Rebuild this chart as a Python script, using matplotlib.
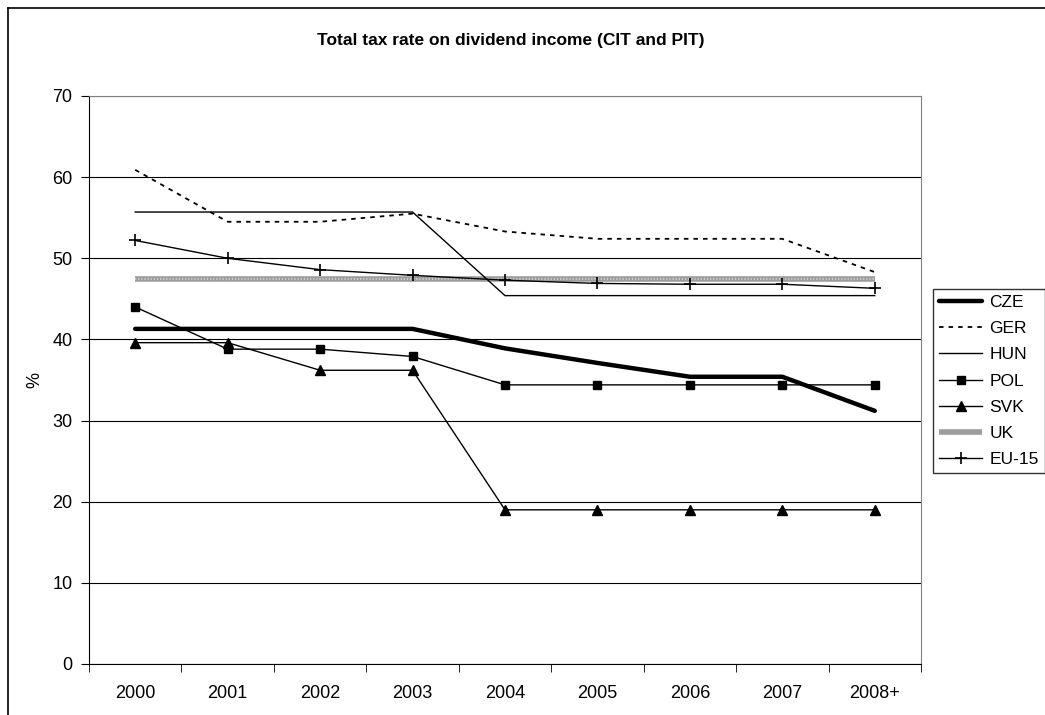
import matplotlib.pyplot as plt
from matplotlib.lines import Line2D
import numpy as np

plt.rcParams['font.family'] = ['Liberation Sans', 'DejaVu Sans']

years = ["2000", "2001", "2002", "2003", "2004", "2005", "2006", "2007", "2008+"]

cze = [41.3, 41.3, 41.3, 41.3, 38.9, 37.1, 35.4, 35.4, 31.2]
ger = [60.9, 54.5, 54.5, 55.5, 53.3, 52.4, 52.4, 52.4, 48.3]
hun = [55.7, 55.7, 55.7, 55.7, 45.4, 45.4, 45.4, 45.4, 45.4]
pol = [44.0, 38.8, 38.8, 37.9, 34.4, 34.4, 34.4, 34.4, 34.4]
svk = [39.6, 39.6, 36.2, 36.2, 19.0, 19.0, 19.0, 19.0, 19.0]
uk = [47.5, 47.5, 47.5, 47.5, 47.5, 47.5, 47.5, 47.5, 47.5]
eu15 = [52.2, 50.0, 48.6, 47.9, 47.3, 46.9, 46.8, 46.8, 46.3]

fig = plt.figure(figsize=(10.45, 7.15), dpi=100)
ax = fig.add_axes([89 / 1045, 51 / 715, 832 / 1045, 568 / 715])

x = np.arange(len(years))

ax.plot(x, uk, color='#9c9c9c', lw=4, solid_capstyle='butt', label='UK', zorder=2)
ax.plot(x, uk, color='#cdcdcd', lw=1.5, linestyle=(0, (0.6, 0.9)), zorder=2)
ax.plot(x, ger, color='black', lw=1.3, linestyle=(0, (2.5, 2.8)), label='GER', zorder=3)
ax.plot(x, hun, color='black', lw=1.0, label='HUN', zorder=3)
ax.plot(x, pol, color='black', lw=1.0, marker='s', markersize=6, label='POL', zorder=4)
ax.plot(x, svk, color='black', lw=1.0, marker='^', markersize=7, label='SVK', zorder=4)
ax.plot(x, eu15, color='black', lw=1.0, marker='+', markersize=8, markeredgewidth=1.2,
        label='EU-15', zorder=4)
ax.plot(x, cze, color='black', lw=3.2, solid_capstyle='round', label='CZE', zorder=5)

ax.set_xlim(-0.5, len(years) - 0.5)
ax.set_ylim(0, 70)
ax.set_yticks(range(0, 71, 10))
ax.set_xticks(x)
ax.set_xticklabels(years)
ax.set_xticks(np.arange(-0.5, len(years)), minor=True)
ax.tick_params(axis='x', which='major', length=0, pad=15, labelsize=13)
ax.tick_params(axis='x', which='minor', length=6, direction='out', color='black')
ax.tick_params(axis='y', length=6, direction='out', labelsize=13, pad=6)
ax.yaxis.grid(True, color='black', lw=0.8)
ax.set_axisbelow(True)

for side in ['top', 'right']:
    ax.spines[side].set_color('#808080')
for side in ['left', 'bottom']:
    ax.spines[side].set_color('black')

fig.text(35 / 1045, 1 - 380 / 715, '%', rotation=90, ha='center', va='center', fontsize=13)

fig.text(511 / 1045, 1 - 41 / 715, 'Total tax rate on dividend income (CIT and PIT)',
         ha='center', va='center', fontsize=12.5, fontweight='bold')

# legend in the original order
handles, labels = ax.get_legend_handles_labels()
order = ['CZE', 'GER', 'HUN', 'POL', 'SVK', 'UK', 'EU-15']
hmap = dict(zip(labels, handles))
leg = fig.legend([hmap[k] for k in order], order, loc='center left',
                 bbox_to_anchor=(933 / 1045, 1 - 381 / 715), frameon=True,
                 fancybox=False, shadow=False, fontsize=12.5, handlelength=2.5,
                 handletextpad=0.4, labelspacing=0.63, borderpad=0.35,
                 borderaxespad=0)
leg.get_frame().set_edgecolor('black')
leg.get_frame().set_linewidth(1.0)

# outer chart border (left and top only visible)
fig.add_artist(Line2D([8 / 1045, 8 / 1045], [0, 1 - 8 / 715], color='black', lw=1.2))
fig.add_artist(Line2D([8 / 1045, 1], [1 - 8 / 715, 1 - 8 / 715], color='black', lw=1.2))

fig.savefig('out.png', dpi=100)
